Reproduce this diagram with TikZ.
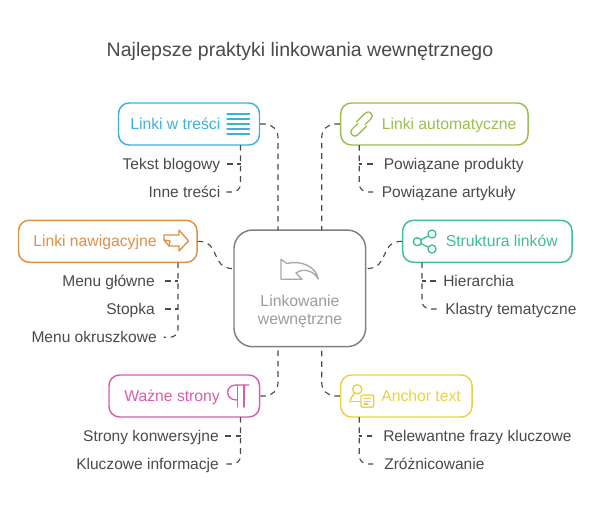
\documentclass[tikz,border=0pt]{standalone}
\usepackage{fontspec}
\setmainfont{Liberation Sans}
\definecolor{cblue}{HTML}{3DB1DD}
\definecolor{cgreen}{HTML}{9ABF4E}
\definecolor{corange}{HTML}{E09044}
\definecolor{cteal}{HTML}{3FBF8C}
\definecolor{cpink}{HTML}{D95DAE}
\definecolor{cyellow}{HTML}{E8D33F}
\definecolor{chub}{HTML}{808080}
\definecolor{chubtext}{HTML}{9C9C9C}
\definecolor{cicon}{HTML}{A8A8A8}
\definecolor{ctext}{HTML}{4A4A4A}
\tikzset{
  x=0.75pt,y=-0.75pt,
  boxnode/.style={draw=#1,line width=1.1pt,rounded corners=8pt,fill=white,minimum height=31.5pt,inner sep=0pt},
  hubnode/.style={draw=chub,line width=1.1pt,rounded corners=14pt,fill=white,minimum width=98.8pt,minimum height=87.5pt,inner sep=0pt},
  txt/.style={inner sep=0pt,text height=.9em,text depth=.12em,font=\fontsize{11.65pt}{13pt}\selectfont},
  boxlabel/.style={txt,text=#1,font=\fontsize{11.8pt}{13pt}\selectfont},
  itemL/.style={txt,text=ctext,anchor=east},
  itemR/.style={txt,text=ctext,anchor=west},
  conn/.style={draw=ctext,line width=0.85pt,dash pattern=on 4.2pt off 3.6pt},
  roundconn/.style={conn,rounded corners=10pt},
  trunk/.style={conn,rounded corners=6pt,shorten >=#1},
  stub/.style={conn,shorten <=#1},
  icon/.style={draw=#1,line width=1pt,line join=round,line cap=round},
}
\begin{document}
\begin{tikzpicture}
\useasboundingbox[fill=white] (0,0) rectangle (600,511);
\coordinate (hubTL) at (278,230);
\coordinate (hubTR) at (321.7,230);
\coordinate (hubBL) at (278,346.7);
\coordinate (hubBR) at (321.7,346.7);
\coordinate (hubW) at (234,268.7);
\coordinate (hubE) at (365.7,268.7);

\node[hubnode] (hub) at (299.85,288.35) {};
\node[boxnode=cblue,minimum width=105.75pt] (a) at (189,124) {};
\node[boxnode=cgreen,minimum width=140.5pt] (b) at (434.35,124) {};
\node[boxnode=corange,minimum width=133.9pt] (c) at (107.75,241.3) {};
\node[boxnode=cteal,minimum width=127pt] (d) at (487.35,241.3) {};
\node[boxnode=cpink,minimum width=112.9pt] (e) at (184.25,396) {};
\node[boxnode=cyellow,minimum width=98.5pt] (f) at (406.35,396) {};

\node[txt,text=ctext,font=\fontsize{14.65pt}{16pt}\selectfont] (title) at (300,51) {Najlepsze praktyki linkowania wewnętrznego};
\node[boxlabel=cblue,anchor=west] (la) at (130,124) {Linki w treści};
\node[boxlabel=cgreen,anchor=west] (lb) at (381.5,124) {Linki automatyczne};
\node[boxlabel=corange,anchor=west] (lc) at (33,241.3) {Linki nawigacyjne};
\node[boxlabel=cteal,anchor=west] (ld) at (445.5,241.3) {Struktura linków};
\node[boxlabel=cpink,anchor=west] (le) at (124,396) {Ważne strony};
\node[boxlabel=cyellow,anchor=west] (lf) at (381,396) {Anchor text};
\node[txt,text=chubtext,font=\fontsize{11.85pt}{13pt}\selectfont] (h1) at (300,301) {Linkowanie};
\node[txt,text=chubtext,font=\fontsize{11.85pt}{13pt}\selectfont] (h2) at (300,319) {wewnętrzne};

\node[itemL] (a1) at (220.5,164) {Tekst blogowy};
\node[itemL] (a2) at (220.5,192) {Inne treści};
\node[itemR] (b1) at (383.5,164) {Powiązane produkty};
\node[itemR] (b2) at (381.5,192) {Powiązane artykuły};
\node[itemL] (c1) at (155,281) {Menu główne};
\node[itemL] (c2) at (155,309) {Stopka};
\node[itemL] (c3) at (157,337.3) {Menu okruszkowe};
\node[itemR] (d1) at (443,281) {Hierarchia};
\node[itemR] (d2) at (445,309) {Klastry tematyczne};
\node[itemL] (e1) at (219,436) {Strony konwersyjne};
\node[itemL] (e2) at (219,464) {Kluczowe informacje};
\node[itemR] (f1) at (383,436) {Relewantne frazy kluczowe};
\node[itemR] (f2) at (384,464) {Zróżnicowanie};

% hub connectors
\draw[roundconn] (a.east) -| (hubTL);
\draw[roundconn] (b.west) -| (hubTR);
\draw[roundconn] (e.east) -| (hubBL);
\draw[roundconn] (f.west) -| (hubBR);
\draw[conn] (c.east) .. controls (222,241.3) and (209,268.7) .. (hubW);
\draw[conn] (d.west) .. controls (378,241.3) and (391,268.7) .. (hubE);

% branch connectors
\coordinate (ta) at (240.5,145);
\coordinate (tb) at (359.3,145);
\coordinate (tc) at (178,262.6);
\coordinate (td) at (422,262.6);
\coordinate (te) at (240.5,417);
\coordinate (tf) at (359.3,417);
\draw[trunk=4.2pt] (ta) |- (a2.east);
\draw[stub=4.8pt] (a1.east) -- (a1.east -| ta);
\draw[trunk=6pt] (tb) |- (b2.west);
\draw[stub=8pt] (b1.west) -- (b1.west -| tb);
\draw[trunk=5pt] (tc) |- (c3.east);
\draw[stub=7.5pt] (c1.east) -- (c1.east -| tc);
\draw[stub=7.5pt] (c2.east) -- (c2.east -| tc);
\draw[trunk=6pt] (td) |- (d2.west);
\draw[stub=5.3pt] (d1.west) -- (d1.west -| td);
\draw[trunk=4.2pt] (te) |- (e2.east);
\draw[stub=4.8pt] (e1.east) -- (e1.east -| te);
\draw[trunk=7.5pt] (tf) |- (f2.west);
\draw[stub=8pt] (f1.west) -- (f1.west -| tf);

% icon: lines
\foreach \yy in {114,119,124,129,134} \draw[icon=cblue] (227,\yy) -- (249.5,\yy);
% icon: chain
\begin{scope}[shift={(361.5,124)},rotate=45]
\draw[icon=cgreen,rounded corners=3pt] (-2,-5) -- (14.5,-5) -- (14.5,3) -- (2,3);
\draw[icon=cgreen,rounded corners=3pt] (2,5) -- (-14.5,5) -- (-14.5,-3) -- (-2,-3);
\end{scope}
% icon: arrow
\draw[icon=corange] (164,235) -- (179,235) -- (179,230) -- (188.5,241) -- (179,251) -- (179,246) -- (169,246) -- (164,240) -- cycle;
\draw[icon=corange] (164,240) -- (170,241) -- (169,246);
% icon: share
\draw[icon=cteal] (417.3,241.7) circle[radius=4];
\draw[icon=cteal] (432,234) circle[radius=4];
\draw[icon=cteal] (432,249) circle[radius=4];
\draw[icon=cteal] (420.8,239.8) -- (428.5,235.9);
\draw[icon=cteal] (420.8,243.5) -- (428.5,247.2);
% icon: pilcrow
\draw[icon=cpink] (249,385) -- (236,385) .. controls (230,385) and (227.7,389) .. (227.7,392.5) .. controls (227.7,397) and (231,400) .. (237.3,400);
\draw[icon=cpink] (237.3,385) -- (237.3,407);
\draw[icon=cpink] (244,385) -- (244,407);
% icon: person with note
\draw[icon=cyellow] (357.3,389.3) circle[radius=4.6];
\draw[icon=cyellow] (350,401.7) .. controls (351,398) and (352,396) .. (354.3,393.5);
\draw[icon=cyellow] (350,401.7) -- (360,401.7);
\draw[icon=cyellow,rounded corners=1pt] (361,395) rectangle (373.7,407.3);
\draw[icon=cyellow] (364,398.5) -- (370.5,398.5) (364,401.2) -- (370.5,401.2) (364,404) -- (368,404);
% icon: return arrow
\draw[icon=cicon] (281,259.3) -- (281,279.3) -- (302,279.3) -- (296,273) .. controls (303,268) and (313,270) .. (318.3,279) .. controls (316,266) and (300,260) .. (287,263.5) -- cycle;
\end{tikzpicture}
\end{document}
